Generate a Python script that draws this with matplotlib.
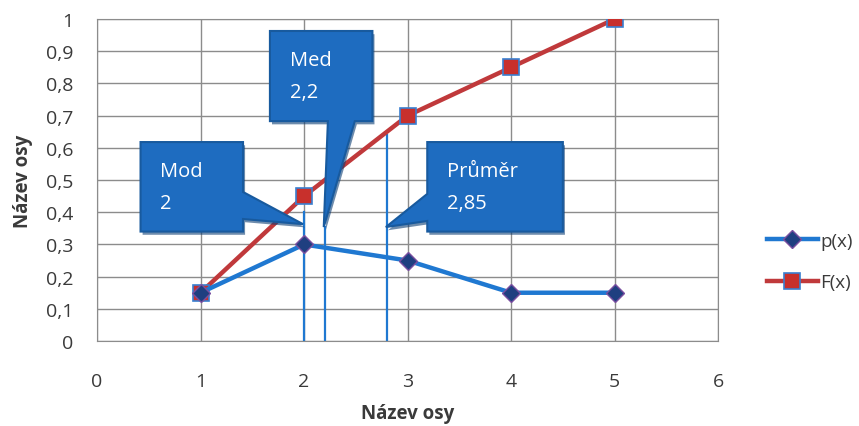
import matplotlib
matplotlib.use("Agg")
import matplotlib.pyplot as plt
from matplotlib.patches import Polygon
from matplotlib.ticker import FuncFormatter, MultipleLocator

# data
x = [1, 2, 3, 4, 5]
p = [0.15, 0.30, 0.25, 0.15, 0.15]
F = [0.15, 0.45, 0.70, 0.85, 1.00]

stat_names = ["Mod", "Med", "Průměr"]
stat_labels = ["2", "2,2", "2,85"]
stat_x = [2.0, 2.2, 2.8]          # where the vertical lines are drawn
stat_top = [0.40, 0.355, 0.64]   # how high the vertical lines reach

plt.rcParams['font.family'] = ['Open Sans', 'DejaVu Sans']

fig = plt.figure(figsize=(8.59, 4.27), dpi=100)
ax = fig.add_axes([0.113, 0.199, 0.723, 0.754])

blue = '#1f78d1'
red = '#c0393b'
box_c = '#1e6cc0'
box_edge = '#185a9e'
txt = '#3a3a3a'

ax.set_xlim(0, 6)
ax.set_ylim(0, 1)
ax.xaxis.set_major_locator(MultipleLocator(1))
ax.yaxis.set_major_locator(MultipleLocator(0.1))
fmt = FuncFormatter(lambda v, pos: ('%g' % round(v, 2)).replace('.', ','))
ax.xaxis.set_major_formatter(fmt)
ax.yaxis.set_major_formatter(fmt)
ax.grid(True, color='#8c8c8c', linewidth=1.0)
ax.set_axisbelow(True)
for s in ax.spines.values():
    s.set_color('#8c8c8c')
ax.tick_params(length=0, labelsize=14, colors=txt)
ax.tick_params(axis='y', pad=17)
ax.tick_params(axis='x', pad=22)
ax.set_xlabel('Název osy', fontsize=13.5, fontweight='bold', color=txt, labelpad=10)
ax.set_ylabel('Název osy', fontsize=13.5, fontweight='bold', color=txt, labelpad=9)

# vertical lines
for sx, st in zip(stat_x, stat_top):
    ax.plot([sx, sx], [0, st], color=blue, linewidth=1.6, zorder=2)

ax.plot(x, F, color=red, linewidth=3.2, marker='s', markersize=11,
        markerfacecolor='#c8302c', markeredgecolor='#3a7fd0', markeredgewidth=1.2,
        label='F(x)', zorder=4)
ax.plot(x, p, color=blue, linewidth=3.2, marker='D', markersize=9.5,
        markerfacecolor='#1f3f80', markeredgecolor='#7a4fa0', markeredgewidth=1.0,
        label='p(x)', zorder=5)

# callouts: box (x0, x1, y0, y1), pointer base on an edge, tip
callouts = [
    dict(box=(0.42, 1.41, 0.34, 0.618), side='right', base=(0.463, 0.379), tip=(1.99, 0.363)),
    dict(box=(1.67, 2.66, 0.683, 0.963), side='bottom', base=(2.23, 2.49), tip=(2.19, 0.354)),
    dict(box=(3.19, 4.50, 0.34, 0.618), side='left', base=(0.457, 0.373), tip=(2.79, 0.354)),
]

for c, name, lab in zip(callouts, stat_names, stat_labels):
    x0, x1, y0, y1 = c['box']
    tx, ty = c['tip']
    b0, b1 = c['base']
    if c['side'] == 'right':
        pts = [(x0, y0), (x1, y0), (x1, b1), (tx, ty), (x1, b0), (x1, y1), (x0, y1)]
    elif c['side'] == 'left':
        pts = [(x0, y0), (x1, y0), (x1, y1), (x0, y1), (x0, b0), (tx, ty), (x0, b1)]
    else:
        pts = [(x0, y0), (b0, y0), (tx, ty), (b1, y0), (x1, y0), (x1, y1), (x0, y1)]
    shadow = [(px + 0.02, py - 0.01) for px, py in pts]
    ax.add_patch(Polygon(shadow, closed=True, facecolor='#0e3f75', edgecolor='none',
                         alpha=0.6, zorder=6))
    ax.add_patch(Polygon(pts, closed=True, facecolor=box_c, edgecolor=box_edge,
                         linewidth=1.5, zorder=7))
    ax.text(x0 + 0.19, y1 - 0.06, name + '\n' + lab,
            color='white', fontsize=14.5, va='top', ha='left', linespacing=1.75, zorder=8)

h, l = ax.get_legend_handles_labels()
leg = fig.legend(h[::-1], l[::-1], loc='center left', bbox_to_anchor=(0.882, 0.385),
                 bbox_transform=fig.transFigure, frameon=False, fontsize=13.5,
                 handlelength=2.7, labelspacing=1.25, handletextpad=0.15, borderpad=0)
for t in leg.get_texts():
    t.set_color(txt)

fig.savefig('out.png', dpi=100)
